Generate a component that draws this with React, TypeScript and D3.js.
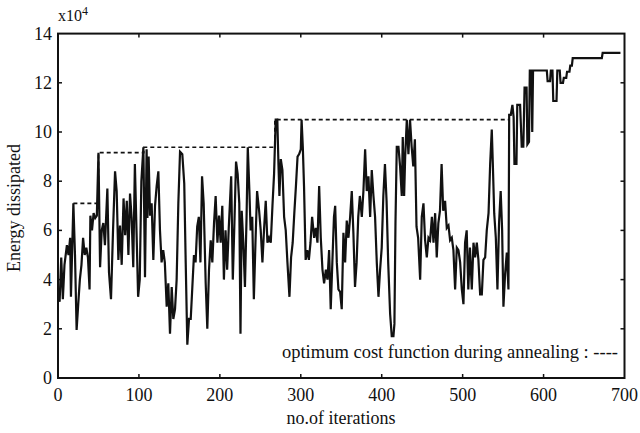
import React, { useEffect, useRef } from 'react';
import * as d3 from 'd3';

// iteration numbers and energy (x10^4)
const iterations = [
  0, 2, 4, 6, 8, 11, 13, 15, 16, 19, 21, 23, 25, 27, 29, 31, 33, 35, 37, 39,
  40, 42, 44, 46, 48, 50, 52, 54, 56, 58, 61, 63, 65.5, 68, 70.5, 72.5, 74.6, 76.6, 78.7, 81,
  83, 85, 87, 89, 91, 93, 95, 97, 99, 101, 103, 105.5, 107.5, 109.5, 110.5, 112, 113.7, 115.7, 117.8, 119.9,
  121.9, 124, 126, 128, 130, 132, 134.3, 136.3, 138.4, 140.5, 142.5, 144.6, 146.6, 148.7, 150.8, 153.6, 156, 157.8, 159.8, 161.9,
  164, 166, 168, 170, 172, 174, 176, 178, 180, 182.5, 184.5, 186.6, 188.7, 190.7, 192.8, 194.8, 197, 199, 201, 203,
  205, 207, 209, 211, 214, 216, 218, 220, 222, 224, 225.5, 227, 229, 231, 233, 234.5, 236.5, 238, 240, 242,
  244, 246, 248.5, 250.5, 252.6, 254.7, 256.7, 258.8, 260.8, 262.9, 265, 267, 269, 271, 272.4, 273.6, 275.3, 277.3, 279.4, 281.4,
  283.5, 286, 288, 290, 292, 294, 296, 298, 300, 301, 302.5, 304, 306, 308, 310, 312, 314, 316.5, 318.5, 320.6,
  322.7, 324.7, 326.8, 328.8, 331, 333, 335, 337, 339, 341, 342.5, 344.5, 346.5, 348.6, 350.6, 352.7, 354.8, 356.8, 358.9, 361,
  363, 365, 367, 369, 371, 373, 375.4, 377.4, 379.5, 381.5, 383.6, 385.7, 387.7, 389.8, 391.8, 393.9, 396, 398, 400, 402,
  404, 406, 408, 410.4, 412.4, 414.5, 415.7, 417, 418.6, 420.7, 422.7, 424.8, 426, 427.7, 429, 431, 433, 435, 437, 439,
  441, 443, 445, 447.5, 449.5, 451.6, 453.6, 455.7, 457.8, 459.8, 462, 464, 466, 468, 470, 472, 474, 476, 478.3, 480.4,
  482.5, 484.5, 486.6, 488.6, 490.7, 492.8, 494.8, 496.9, 499, 501, 503, 505, 507, 509, 511.3, 513.4, 515.4, 517.5, 519.5, 521.6,
  523.7, 525.7, 527.8, 529.8, 532, 534, 536, 537.3, 539, 541, 543, 545, 547, 548.8, 550.4, 552.5, 554.6, 556.6, 557.5, 559.5,
  561.5, 563, 564, 566.5, 567.5, 571, 573, 575, 576.5, 579, 580, 582, 583, 585, 586, 587, 604, 605, 608, 609,
  611, 612, 616, 617, 620, 621, 624, 625, 628, 629, 632, 633, 635, 636, 672, 673, 695,
];

const energy = [
  3.5, 3.1, 4.9, 3.2, 4.6, 5.4, 5.0, 5.7, 3.3, 7.1, 5.0, 1.95, 3.0, 4.0, 4.6, 5.7, 5.0, 5.3, 4.9, 3.6,
  6.6, 6.0, 6.7, 6.5, 6.6, 9.16, 4.5, 6.0, 6.3, 5.4, 7.7, 4.3, 3.2, 6.0, 8.4, 7.6, 4.8, 6.2, 4.6, 7.3,
  5.8, 7.2, 5.0, 7.5, 6.5, 4.5, 8.7, 6.0, 3.3, 4.0, 8.0, 9.38, 4.1, 9.3, 6.5, 9.0, 6.6, 7.1, 4.8, 7.0,
  7.8, 8.4, 6.0, 4.7, 5.2, 4.7, 2.9, 3.85, 1.8, 3.7, 2.4, 2.8, 4.0, 7.1, 9.2, 9.1, 7.9, 4.7, 1.35, 2.4,
  2.4, 3.7, 5.0, 4.7, 6.15, 6.55, 4.7, 8.2, 7.1, 3.85, 2.0, 4.4, 5.6, 4.7, 6.3, 7.4, 5.5, 6.6, 5.5, 7.0,
  4.0, 6.0, 4.4, 6.1, 8.2, 4.0, 6.3, 8.8, 8.3, 7.1, 1.8, 6.8, 5.5, 3.7, 6.55, 9.38, 7.6, 6.0, 6.55, 3.2,
  5.5, 7.6, 6.8, 6.0, 4.7, 6.1, 7.2, 5.5, 5.7, 5.5, 7.0, 8.3, 10.5, 10.5, 8.7, 7.4, 8.9, 8.45, 6.55, 6.0,
  4.7, 3.3, 4.9, 5.5, 6.7, 7.8, 9.0, 9.1, 9.3, 10.5, 9.4, 7.8, 4.8, 5.2, 4.8, 5.5, 6.55, 5.7, 6.1, 5.5,
  7.8, 5.7, 4.4, 3.85, 4.4, 4.0, 5.2, 2.8, 4.7, 6.55, 7.0, 4.7, 3.6, 3.5, 2.8, 5.9, 4.7, 6.4, 5.7, 6.55,
  7.6, 5.9, 3.7, 4.7, 6.55, 7.4, 6.55, 7.6, 9.3, 7.6, 8.2, 6.55, 8.45, 7.4, 6.55, 4.7, 3.3, 4.4, 5.3, 7.4,
  8.7, 7.2, 4.7, 2.6, 1.7, 1.7, 2.2, 6.3, 9.4, 9.4, 8.6, 7.4, 9.8, 7.4, 9.0, 10.5, 9.1, 10.5, 9.4, 8.6,
  9.7, 6.15, 5.7, 4.0, 6.55, 7.1, 5.6, 4.9, 5.7, 5.6, 6.55, 5.5, 6.7, 4.9, 6.3, 6.8, 8.7, 6.8, 7.2, 6.1,
  6.2, 5.6, 5.7, 5.2, 3.6, 5.3, 5.2, 4.7, 3.6, 3.0, 5.5, 6.0, 3.6, 5.3, 3.6, 5.5, 4.9, 5.5, 4.8, 3.4,
  3.4, 4.8, 4.9, 6.0, 6.7, 8.7, 10.1, 8.7, 6.7, 5.7, 3.6, 6.3, 7.6, 6.0, 2.9, 4.25, 5.1, 3.6, 10.7, 10.7,
  11.1, 10.6, 8.7, 8.7, 11.1, 11.1, 9.4, 9.4, 11.8, 11.8, 9.5, 9.6, 12.5, 12.5, 10.0, 12.5, 12.5, 12.07, 12.07, 12.5,
  12.5, 11.26, 11.26, 12.5, 12.5, 12.0, 12.0, 12.2, 12.2, 12.45, 12.45, 12.7, 12.7, 13.0, 13.0, 13.22, 13.22,
];

// running optimum (dashed)
const optimumIter = [19, 50, 106, 268, 558];
const optimumEnergy = [7.1, 9.16, 9.38, 10.5, 10.5];

const xTicks = [0, 100, 200, 300, 400, 500, 600, 700];
const yTicks = [0, 2, 4, 6, 8, 10, 12, 14];

const FONT = '"Liberation Serif", "Times New Roman", Times, "DejaVu Serif", serif';

const App = () => {
  const svgRef = useRef<SVGSVGElement>(null);

  useEffect(() => {
    const svg = d3.select(svgRef.current);
    svg.selectAll('*').remove();

    const x = d3.scaleLinear().domain([0, 700]).range([58, 624.5]);
    const y = d3.scaleLinear().domain([0, 14]).range([378, 33.6]);

    const ink = '#111';

    // frame
    svg
      .append('rect')
      .attr('x', x(0))
      .attr('y', y(14))
      .attr('width', x(700) - x(0))
      .attr('height', y(0) - y(14))
      .attr('fill', 'none')
      .attr('stroke', ink)
      .attr('stroke-width', 2);

    // inward ticks on all four sides
    const tk = 4;
    const inner = xTicks.slice(1, -1);
    const innerY = yTicks.slice(1, -1);
    const tickG = svg.append('g').attr('stroke', ink).attr('stroke-width', 1.5);
    tickG
      .selectAll('line.xb')
      .data(inner)
      .join('line')
      .attr('class', 'xb')
      .attr('x1', (d) => x(d))
      .attr('x2', (d) => x(d))
      .attr('y1', y(0))
      .attr('y2', y(0) - tk);
    tickG
      .selectAll('line.xt')
      .data(inner)
      .join('line')
      .attr('class', 'xt')
      .attr('x1', (d) => x(d))
      .attr('x2', (d) => x(d))
      .attr('y1', y(14))
      .attr('y2', y(14) + tk);
    tickG
      .selectAll('line.yl')
      .data(innerY)
      .join('line')
      .attr('class', 'yl')
      .attr('x1', x(0))
      .attr('x2', x(0) + tk)
      .attr('y1', (d) => y(d))
      .attr('y2', (d) => y(d));
    tickG
      .selectAll('line.yr')
      .data(innerY)
      .join('line')
      .attr('class', 'yr')
      .attr('x1', x(700))
      .attr('x2', x(700) - tk)
      .attr('y1', (d) => y(d))
      .attr('y2', (d) => y(d));

    // tick labels
    svg
      .append('g')
      .selectAll('text')
      .data(xTicks)
      .join('text')
      .attr('x', (d) => x(d))
      .attr('y', 401)
      .attr('text-anchor', 'middle')
      .attr('font-family', FONT)
      .attr('font-size', 18)
      .attr('fill', ink)
      .text((d) => d);
    svg
      .append('g')
      .selectAll('text')
      .data(yTicks)
      .join('text')
      .attr('x', 52)
      .attr('y', (d) => y(d) + 6)
      .attr('text-anchor', 'end')
      .attr('font-family', FONT)
      .attr('font-size', 18)
      .attr('fill', ink)
      .text((d) => d);

    // exponent marker
    const exp = svg
      .append('text')
      .attr('x', 58)
      .attr('y', 21)
      .attr('font-family', FONT)
      .attr('font-size', 16)
      .attr('fill', ink);
    exp.append('tspan').text('x10');
    exp.append('tspan').attr('dy', -6).attr('font-size', 12).text('4');

    // axis titles
    svg
      .append('text')
      .attr('transform', 'translate(20,208) rotate(-90)')
      .attr('text-anchor', 'middle')
      .attr('font-family', FONT)
      .attr('font-size', 18)
      .attr('fill', ink)
      .text('Energy dissipated');
    svg
      .append('text')
      .attr('x', 341)
      .attr('y', 424)
      .attr('text-anchor', 'middle')
      .attr('font-family', FONT)
      .attr('font-size', 18)
      .attr('fill', ink)
      .text('no.of iterations');

    // legend note
    svg
      .append('text')
      .attr('x', 618)
      .attr('y', 358)
      .attr('text-anchor', 'end')
      .attr('font-family', FONT)
      .attr('font-size', 18.5)
      .attr('fill', ink)
      .text('optimum cost function during annealing : ----');

    // optimum (dashed)
    const optLine = d3
      .line<number>()
      .x((d) => x(optimumIter[d]))
      .y((d) => y(optimumEnergy[d]))
      .curve(d3.curveStepAfter);
    svg
      .append('path')
      .attr('d', optLine(d3.range(optimumIter.length)))
      .attr('fill', 'none')
      .attr('stroke', ink)
      .attr('stroke-width', 1.7)
      .attr('stroke-dasharray', '4,3');

    // energy trace
    const line = d3
      .line<number>()
      .x((d) => x(iterations[d]))
      .y((d) => y(energy[d]));
    svg
      .append('path')
      .attr('d', line(d3.range(iterations.length)))
      .attr('fill', 'none')
      .attr('stroke', ink)
      .attr('stroke-width', 2.2)
      .attr('stroke-linejoin', 'miter');
  }, []);

  return (
    <div style={{ position: 'fixed', left: 0, top: 0 }}>
      <svg ref={svgRef} width={640} height={433} style={{ display: 'block', background: '#fff' }} />
    </div>
  );
};

export default App;
